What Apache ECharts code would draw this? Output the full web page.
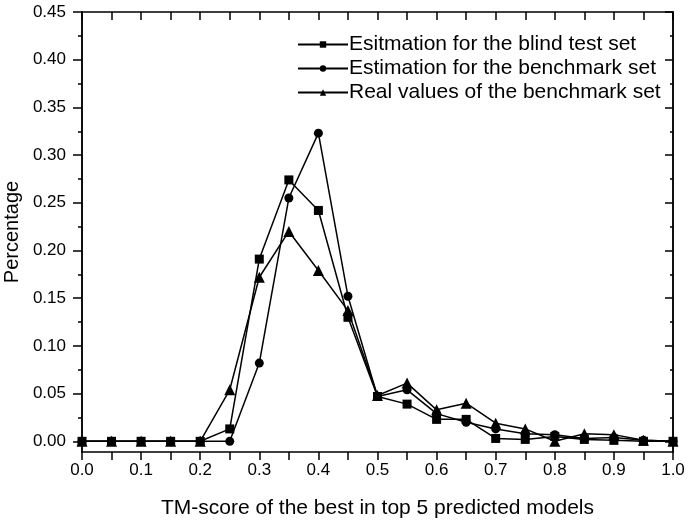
<!DOCTYPE html>
<html>
<head>
<meta charset="utf-8">
<script src="https://cdn.jsdelivr.net/npm/echarts@6/dist/echarts.min.js"></script>
<style>html,body{margin:0;padding:0;background:#fff;}#c{width:690px;height:523px;}</style>
</head>
<body>
<div id="c"></div>
<script>
var xValues = [0, 0.05, 0.1, 0.15, 0.2, 0.25, 0.3, 0.35, 0.4, 0.45, 0.5, 0.55, 0.6, 0.65, 0.7, 0.75, 0.8, 0.85, 0.9, 0.95, 1.0];
var blindTest = [0, 0, 0, 0, 0, 0.013, 0.191, 0.274, 0.242, 0.130, 0.047, 0.039, 0.023, 0.023, 0.003, 0.002, 0.005, 0.002, 0.001, 0.000, 0];
var benchEst = [0, 0, 0, 0, 0, 0, 0.082, 0.255, 0.323, 0.152, 0.047, 0.054, 0.029, 0.020, 0.013, 0.008, 0.007, 0.003, 0.004, 0.001, 0];
var benchReal = [0, 0, 0, 0, 0, 0.054, 0.172, 0.220, 0.179, 0.137, 0.048, 0.061, 0.033, 0.040, 0.019, 0.013, 0.000, 0.008, 0.007, 0.001, 0];
var seriesNames = ['Esitmation for the blind test set', 'Estimation for the benchmark set', 'Real values of the benchmark set'];
var yMajor = [0, 0.05, 0.1, 0.15, 0.2, 0.25, 0.3, 0.35, 0.4, 0.45];
var yMinor = [0.025, 0.075, 0.125, 0.175, 0.225, 0.275, 0.325, 0.375, 0.425];

var FONT = 'Liberation Sans, Arial, sans-serif';
var YMIN = -0.0112, YMAX = 0.45;
function pairs(vals) { return xValues.map(function (x, i) { return [x, vals[i]]; }); }

function yAx(pos, inside, len, custom, labels) {
  return {
    type: 'value', position: pos, min: YMIN, max: YMAX,
    axisLine: { show: true, onZero: false, lineStyle: { color: '#000', width: 1.5 } },
    axisTick: { show: true, inside: inside, length: len, customValues: custom, lineStyle: { color: '#000', width: 1.5 } },
    axisLabel: labels ? { show: true, customValues: custom, margin: 16, color: '#000', fontSize: 17, fontFamily: FONT,
      formatter: function (v) { return v.toFixed(2); } } : { show: false },
    splitLine: { show: false },
    name: labels ? 'Percentage' : '', nameLocation: 'middle', nameGap: 58,
    nameTextStyle: { color: '#000', fontSize: 20, fontFamily: FONT }
  };
}

var chart = echarts.init(document.getElementById('c'));
var sym = ['rect', 'circle', 'triangle'];
var symSize = [9, 9, 11];
var data = [blindTest, benchEst, benchReal];
chart.setOption({
  animation: false,
  backgroundColor: '#fff',
  grid: { left: 82, right: 17, top: 12, bottom: 71, containLabel: false, outerBoundsMode: 'none' },
  legend: {
    left: 292, top: 29, orient: 'vertical', itemWidth: 50, itemHeight: 8, itemGap: 3,
    textStyle: { color: '#000', fontSize: 21, fontFamily: FONT, padding: [0, 0, 0, -4] },
    data: seriesNames
  },
  xAxis: [
    {
      type: 'value', position: 'bottom', min: 0, max: 1, interval: 0.05,
      axisLine: { show: true, onZero: false, lineStyle: { color: '#000', width: 1.5 } },
      axisTick: { show: true, inside: false, length: 8, lineStyle: { color: '#000', width: 1.5 } },
      axisLabel: { show: true, margin: 10, color: '#000', fontSize: 17, fontFamily: FONT,
        formatter: function (v) { return Math.round(v * 20) % 2 === 0 ? v.toFixed(1) : ''; } },
      splitLine: { show: false },
      name: 'TM-score of the best in top 5 predicted models', nameLocation: 'middle', nameGap: 46,
      nameTextStyle: { color: '#000', fontSize: 21, fontFamily: FONT }
    },
    {
      type: 'value', position: 'top', min: 0, max: 1, interval: 0.05,
      axisLine: { show: true, onZero: false, lineStyle: { color: '#000', width: 1.5 } },
      axisTick: { show: true, inside: true, length: 8, lineStyle: { color: '#000', width: 1.5 } },
      axisLabel: { show: false }, splitLine: { show: false }
    }
  ],
  yAxis: [
    yAx('left', false, 9, yMajor, true),
    yAx('left', false, 4, yMinor, false),
    yAx('right', true, 8, yMajor, false),
    yAx('right', true, 3, yMinor, false)
  ],
  series: seriesNames.map(function (n, i) {
    return {
      name: n, type: 'line', xAxisIndex: 0, yAxisIndex: 0,
      data: pairs(data[i]), symbol: sym[i], symbolSize: symSize[i], showAllSymbol: true,
      lineStyle: { color: '#000', width: 1.5 }, itemStyle: { color: '#000' },
      emphasis: { disabled: true }, clip: false
    };
  })
});
</script>
</body>
</html>
